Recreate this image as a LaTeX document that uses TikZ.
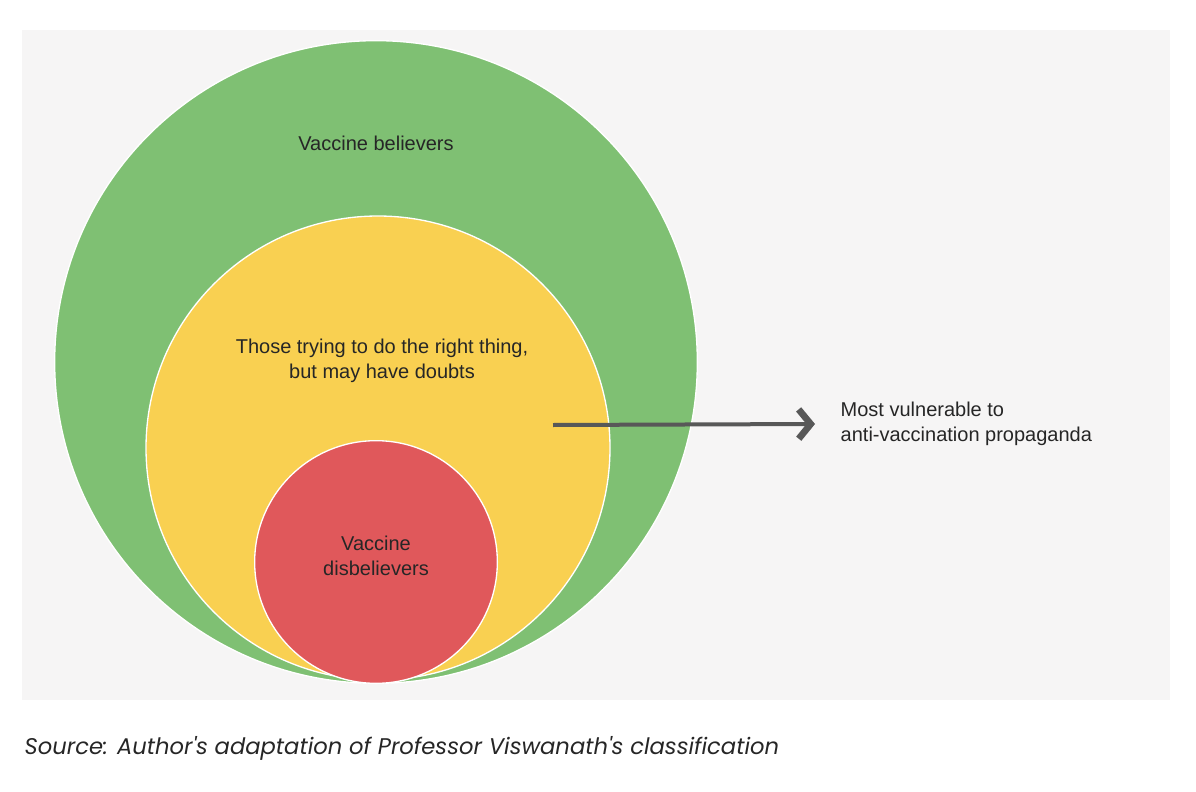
\documentclass[tikz,border=0pt]{standalone}
\usepackage{fontspec}
\setmainfont{Liberation Sans}
\newfontfamily\captionfont{Poppins}
\usetikzlibrary{arrows.meta}
\definecolor{bggray}{HTML}{F6F5F5}
\definecolor{believer}{HTML}{7FC073}
\definecolor{doubter}{HTML}{F9D051}
\definecolor{disbeliever}{HTML}{E0585B}
\definecolor{arrowgray}{HTML}{585858}
\tikzset{
  ring/.style={circle, draw=white, line width=1pt},
  label/.style={font=\fontsize{15}{19}\selectfont, text=black!85, align=center},
  arrow/.style={arrowgray, line width=3pt, -{Straight Barb[length=9pt,width=22pt,line width=5pt]}}
}
\begin{document}
\begin{tikzpicture}[x=0.75pt,y=-0.75pt]
  \useasboundingbox (0,0) rectangle (1196,792);
  \fill[bggray] (22,30) rectangle (1170,700);

  % circles
  \node[ring, fill=believer, minimum size=482pt] (believers) at (376,362) {};
  \node[ring, fill=doubter, minimum size=348pt] (doubters) at (378,448) {};
  \node[ring, fill=disbeliever, minimum size=182pt] (disbelievers) at (376,562) {};

  % texts
  \node[label] (tbel) at (376,143) {Vaccine believers};
  \node[label] (tdoubt) at (382,361) {Those trying to do the right thing,\\but may have doubts};
  \node[label] (tdis) at (376,556) {Vaccine\\disbelievers};
  \node[label, align=left, anchor=west] (tvuln) at (836,424) {Most vulnerable to\\anti-vaccination propaganda};

  \coordinate (start) at (553,425);
  \draw[arrow] (start) -- (tvuln.west -| 815,0);

  \node[anchor=west, font=\captionfont\itshape\fontsize{17}{20}\selectfont, text=black!85] (source) at (20,748) {Source: Author's adaptation of Professor Viswanath's classification};
\end{tikzpicture}
\end{document}
